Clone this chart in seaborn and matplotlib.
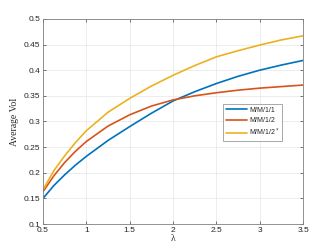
import numpy as np
import pandas as pd
import matplotlib
matplotlib.use("Agg")
import matplotlib.pyplot as plt
import seaborn as sns

# values
lam = [0.5, 0.625, 0.75, 0.875, 1.0, 1.25, 1.5, 1.75, 2.0, 2.25, 2.5, 2.75, 3.0, 3.25, 3.5]
voi_m111 = [0.150, 0.175, 0.196, 0.215, 0.232, 0.263, 0.290, 0.316, 0.340, 0.358, 0.374, 0.388, 0.400, 0.410, 0.419]
voi_m112 = [0.163, 0.194, 0.220, 0.242, 0.261, 0.291, 0.313, 0.330, 0.342, 0.350, 0.356, 0.361, 0.365, 0.368, 0.371]
voi_m112s = [0.167, 0.204, 0.233, 0.259, 0.282, 0.318, 0.345, 0.369, 0.390, 0.409, 0.426, 0.438, 0.449, 0.459, 0.467]
labels = ["M/M/1/1", "M/M/1/2", "M/M/1/2$^*$"]
colors = ["#0072BD", "#D95319", "#EDB120"]

df = pd.DataFrame({
    "lam": lam * 3,
    "voi": voi_m111 + voi_m112 + voi_m112s,
    "policy": [labels[0]] * len(lam) + [labels[1]] * len(lam) + [labels[2]] * len(lam),
})

sns.set_theme(style="whitegrid")
plt.rcParams["font.family"] = ["Liberation Sans", "DejaVu Sans"]

fig = plt.figure(figsize=(3.36, 2.52), dpi=100)
ax = fig.add_axes([0.128, 0.111, 0.774, 0.814])

sns.lineplot(data=df, x="lam", y="voi", hue="policy", palette=colors,
             linewidth=1.2, ax=ax)

ax.set_xlim(0.5, 3.5)
ax.set_ylim(0.1, 0.5)
ax.set_xticks([0.5, 1, 1.5, 2, 2.5, 3, 3.5])
ax.set_xticklabels(["0.5", "1", "1.5", "2", "2.5", "3", "3.5"])
ax.set_yticks(np.arange(0.1, 0.51, 0.05))
ax.set_yticklabels(["0.1", "0.15", "0.2", "0.25", "0.3", "0.35", "0.4", "0.45", "0.5"])

ax.set_facecolor("white")
ax.grid(True, color="#e6e6e6", linewidth=0.5)
for s in ax.spines.values():
    s.set_visible(True)
    s.set_color("#808080")
    s.set_linewidth(0.6)
ax.tick_params(direction="in", length=2.5, width=0.5, colors="#404040",
               labelsize=6, pad=2, top=True, right=True, bottom=True, left=True)
for t in ax.get_xticklabels() + ax.get_yticklabels():
    t.set_color("#262626")

ax.set_xlabel("λ", family=["Liberation Serif"], fontsize=7, labelpad=0)
ax.set_ylabel("Average VoI", family=["Liberation Serif"], fontsize=7, labelpad=3)

leg = ax.legend(loc="upper left", bbox_to_anchor=(0.68, 0.6), fontsize=5,
                frameon=True, fancybox=False, handlelength=3.0, borderpad=0.35,
                labelspacing=0.45, handletextpad=0.4)
leg.get_frame().set_edgecolor("#808080")
leg.get_frame().set_linewidth(0.6)
leg.set_title(None)

fig.savefig("out.png", dpi=100)
